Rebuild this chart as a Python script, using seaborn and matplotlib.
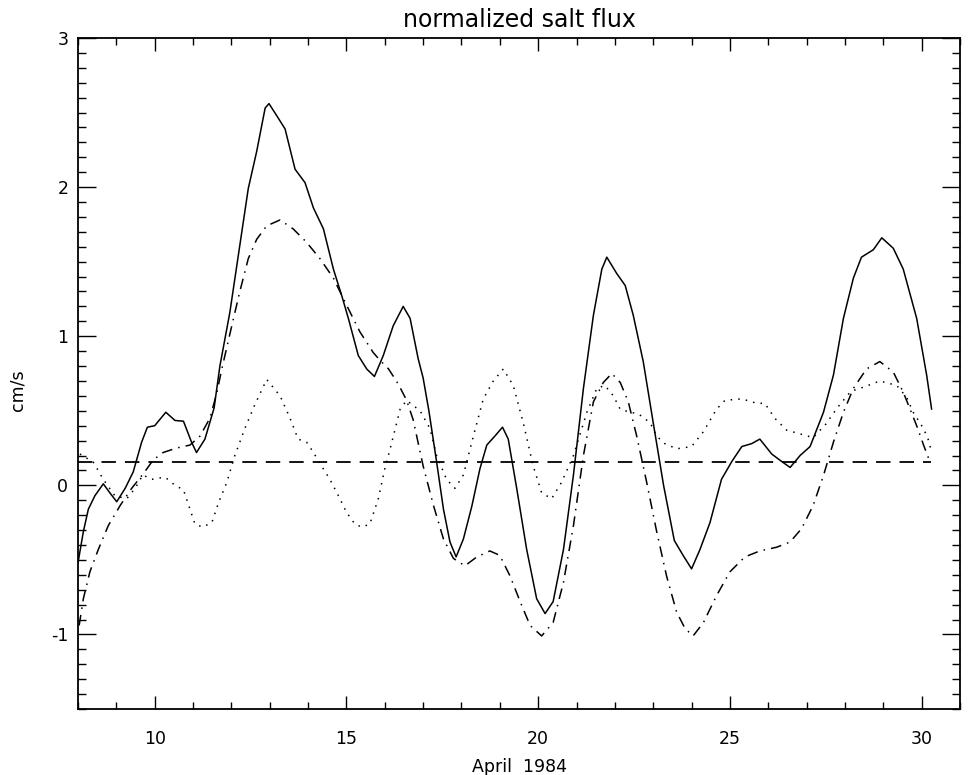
import numpy as np
import pandas as pd
import seaborn as sns
import matplotlib.pyplot as plt
from matplotlib.ticker import MultipleLocator

# values (day of April 1984, cm/s)
solid_x = [8.0, 8.14, 8.27, 8.44, 8.66, 8.83, 9.01, 9.23, 9.44, 9.66, 9.81, 10.0,
           10.29, 10.53, 10.75, 10.96, 11.09, 11.31, 11.55, 11.7, 11.96, 12.22, 12.44,
           12.66, 12.88, 12.98, 13.18, 13.4, 13.66, 13.92, 14.14, 14.4, 14.66, 14.88,
           15.05, 15.31, 15.53, 15.73, 15.96, 16.22, 16.48, 16.66, 16.87, 17.0, 17.15,
           17.35, 17.53, 17.7, 17.86, 18.05, 18.27, 18.48, 18.66, 18.87, 19.07, 19.22,
           19.44, 19.7, 19.96, 20.18, 20.39, 20.66, 20.92, 21.18, 21.44, 21.66, 21.79,
           22.05, 22.27, 22.48, 22.74, 23.0, 23.27, 23.55, 23.78, 24.0, 24.22, 24.48,
           24.78, 25.05, 25.31, 25.57, 25.78, 26.09, 26.35, 26.57, 26.83, 27.09, 27.44,
           27.7, 27.96, 28.22, 28.43, 28.74, 28.96, 29.26, 29.52, 29.87, 30.13, 30.26]
solid_y = [-0.52, -0.31, -0.16, -0.07, 0.01, -0.05, -0.11, -0.02, 0.09, 0.29, 0.39, 0.4,
           0.49, 0.435, 0.43, 0.29, 0.22, 0.31, 0.52, 0.8, 1.16, 1.61, 1.99,
           2.24, 2.53, 2.56, 2.48, 2.39, 2.12, 2.03, 1.86, 1.72, 1.45, 1.27,
           1.12, 0.87, 0.78, 0.73, 0.87, 1.07, 1.2, 1.12, 0.85, 0.72, 0.5,
           0.16, -0.16, -0.38, -0.48, -0.36, -0.14, 0.11, 0.27, 0.33, 0.39, 0.31,
           -0.02, -0.43, -0.76, -0.86, -0.78, -0.43, 0.07, 0.65, 1.14, 1.45, 1.53,
           1.42, 1.34, 1.14, 0.83, 0.42, 0.0, -0.37, -0.47, -0.56, -0.43, -0.25,
           0.04, 0.16, 0.26, 0.28, 0.31, 0.21, 0.16, 0.12, 0.2, 0.26, 0.49,
           0.74, 1.12, 1.39, 1.53, 1.58, 1.66, 1.59, 1.45, 1.12, 0.74, 0.51]

dotted_x = [8.05, 8.4, 8.66, 8.96, 9.27, 9.49, 9.69, 9.92, 10.27, 10.53, 10.75, 10.92,
            11.05, 11.25, 11.49, 11.66, 11.88, 12.09, 12.35, 12.61, 12.92, 13.27, 13.53,
            13.74, 13.96, 14.14, 14.35, 14.57, 14.83, 15.0, 15.22, 15.4, 15.61, 15.83,
            16.0, 16.14, 16.4, 16.57, 16.92, 17.18, 17.35, 17.61, 17.83, 18.05, 18.31,
            18.57, 18.83, 19.09, 19.35, 19.61, 19.87, 20.09, 20.35, 20.61, 20.92, 21.27,
            21.53, 21.74, 21.96, 22.14, 22.4, 22.61, 22.92, 23.09, 23.3, 23.61, 24.0,
            24.31, 24.65, 24.87, 25.31, 25.7, 25.91, 26.17, 26.48, 26.83, 27.17, 27.5,
            27.8, 28.15, 28.5, 28.91, 29.35, 29.61, 29.78, 30.05, 30.2, 30.25]
dotted_y = [0.21, 0.155, 0.04, -0.07, -0.09, -0.02, 0.07, 0.04, 0.055, 0.0, -0.03, -0.16,
            -0.26, -0.28, -0.25, -0.12, 0.02, 0.2, 0.38, 0.54, 0.71, 0.6, 0.45,
            0.31, 0.29, 0.22, 0.13, 0.04, -0.09, -0.18, -0.26, -0.28, -0.26, -0.09,
            0.11, 0.245, 0.51, 0.57, 0.5, 0.38, 0.2, 0.04, -0.02, 0.07, 0.33,
            0.58, 0.7, 0.78, 0.67, 0.42, 0.13, -0.05, -0.09, 0.02, 0.2, 0.49,
            0.65, 0.67, 0.6, 0.51, 0.49, 0.48, 0.42, 0.33, 0.28, 0.245, 0.26,
            0.36, 0.51, 0.57, 0.58, 0.55, 0.55, 0.45, 0.37, 0.345, 0.32, 0.41,
            0.52, 0.63, 0.66, 0.7, 0.67, 0.59, 0.49, 0.38, 0.29, 0.22]

dashdot_x = [8.03, 8.14, 8.31, 8.53, 8.79, 9.1, 9.4, 9.71, 9.96, 10.22, 10.57, 10.92,
             11.18, 11.44, 11.62, 11.75, 12.01, 12.22, 12.44, 12.66, 12.92, 13.27, 13.61,
             13.96, 14.31, 14.66, 15.0, 15.35, 15.7, 15.87, 16.1, 16.35, 16.57, 16.74,
             17.0, 17.27, 17.53, 17.79, 18.09, 18.4, 18.74, 19.0, 19.27, 19.53, 19.79,
             20.09, 20.39, 20.66, 20.92, 21.18, 21.44, 21.7, 21.92, 22.14, 22.35, 22.57,
             22.83, 23.09, 23.35, 23.61, 23.83, 24.04, 24.31, 24.65, 25.0, 25.39, 25.78,
             26.22, 26.57, 26.87, 27.17, 27.44, 27.7, 27.96, 28.22, 28.56, 28.91, 29.26,
             29.52, 29.87, 30.05, 30.22]
dashdot_y = [-0.94, -0.76, -0.58, -0.43, -0.27, -0.135, -0.02, 0.08, 0.17, 0.22, 0.25, 0.27,
             0.33, 0.45, 0.62, 0.78, 1.07, 1.3, 1.52, 1.65, 1.74, 1.78, 1.72,
             1.63, 1.52, 1.39, 1.21, 1.03, 0.89, 0.84, 0.78, 0.68, 0.57, 0.44,
             0.13, -0.135, -0.36, -0.49, -0.54, -0.48, -0.44, -0.47, -0.61, -0.78, -0.94,
             -1.01, -0.92, -0.65, -0.27, 0.2, 0.56, 0.69, 0.75, 0.69, 0.56, 0.33,
             0.02, -0.31, -0.61, -0.85, -0.96, -1.01, -0.92, -0.74, -0.58, -0.48, -0.44,
             -0.415, -0.38, -0.29, -0.135, 0.066, 0.29, 0.49, 0.65, 0.78, 0.83, 0.76,
             0.625, 0.4, 0.27, 0.155]

mean_x = [8.0, 30.25]
mean_y = [0.155, 0.155]

sns.set_style("ticks")
plt.rcParams['font.family'] = ['DejaVu Sans']
plt.rcParams['axes.unicode_minus'] = False
plt.rcParams['text.color'] = 'black'
plt.rcParams['axes.labelcolor'] = 'black'

fig = plt.figure(figsize=(9.68, 7.75), dpi=100)
ax = fig.add_axes([78 / 968, 1 - 709 / 775, 882 / 968, 671 / 775])

sns.lineplot(x=solid_x, y=solid_y, ax=ax, color='black', lw=1.1, errorbar=None)
sns.lineplot(x=dotted_x, y=dotted_y, ax=ax, color='black', lw=1.1,
             linestyle=(0, (1, 4)), errorbar=None)
sns.lineplot(x=dashdot_x, y=dashdot_y, ax=ax, color='black', lw=1.1,
             linestyle=(0, (7, 4, 1, 4)), errorbar=None)
sns.lineplot(x=mean_x, y=mean_y, ax=ax, color='black', lw=1.3,
             linestyle=(0, (8, 5)), errorbar=None)

ax.set_xlim(8, 31)
ax.set_ylim(-1.5, 3)
ax.xaxis.set_major_locator(MultipleLocator(5))
ax.xaxis.set_minor_locator(MultipleLocator(1))
ax.yaxis.set_major_locator(MultipleLocator(1))
ax.yaxis.set_minor_locator(MultipleLocator(0.1))

ax.tick_params(which='both', direction='in', top=True, right=True,
               color='black', width=1.0, labelsize=12.5, labelcolor='black')
ax.tick_params(axis='x', which='major', length=9.5, pad=15)
ax.tick_params(axis='x', which='minor', length=5)
ax.tick_params(axis='y', which='major', length=13, pad=7)
ax.tick_params(axis='y', which='minor', length=5.8)

for s in ax.spines.values():
    s.set_linewidth(1.3)
    s.set_color('black')

ax.set_title('normalized salt flux', fontsize=17, pad=8, color='black')
ax.set_xlabel('April  1984', fontsize=12.5, color='black')
ax.set_ylabel('cm/s', fontsize=12.5, color='black')
ax.xaxis.set_label_coords(0.5, -0.073)
ax.yaxis.set_label_coords(-0.058, 0.475)

fig.savefig('out.png', dpi=100)
